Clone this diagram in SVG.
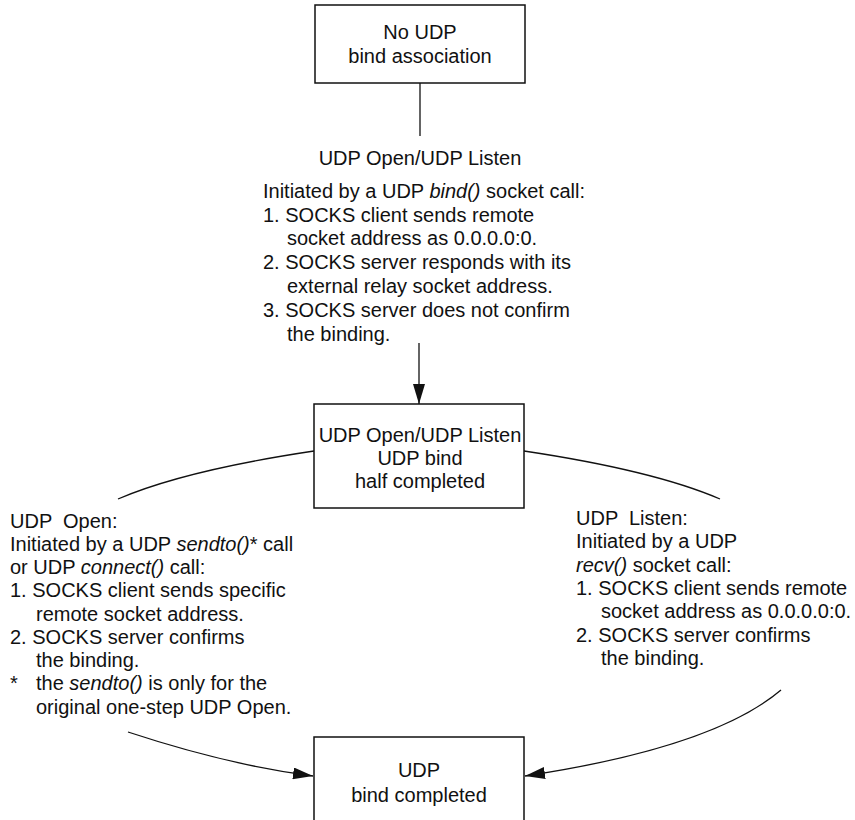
<svg xmlns="http://www.w3.org/2000/svg" width="855" height="820" viewBox="0 0 855 820">
  <style>
    text { font-family: "Liberation Sans", Arial, sans-serif; font-size: 20px; fill: #111; white-space: pre; }
    .c { text-anchor: middle; }
    .i { font-style: italic; }
    .box { fill: #fff; stroke: #111; stroke-width: 1.5; }
    .edge { fill: none; stroke: #111; stroke-width: 1.3; }
  </style>
  <defs>
    <marker id="arrow" markerUnits="userSpaceOnUse" markerWidth="20" markerHeight="12" refX="20" refY="6" orient="auto">
      <path d="M0,0 L20,6 L0,12 z" fill="#111"/>
    </marker>
  </defs>
  <rect width="855" height="820" fill="#fff"/>

  <!-- connectors -->
  <g id="connectors">
    <line class="edge" x1="420" y1="83" x2="420" y2="136"/>
    <line class="edge" x1="419" y1="343" x2="419" y2="404" marker-end="url(#arrow)"/>
    <path class="edge" d="M314,451 Q184.4,470.4 118,499"/>
    <path class="edge" d="M524,451 Q653.6,470.4 720,499"/>
    <path class="edge" d="M128,732 Q227.75,764.9 313,776" marker-end="url(#arrow)"/>
    <path class="edge" d="M781,690 Q713.2,747.6 525,776" marker-end="url(#arrow)"/>
  </g>

  <!-- states -->
  <g id="no-bind">
    <rect class="box" x="315" y="5" width="210" height="78"/>
    <text class="c" x="420" y="39">No UDP</text>
    <text class="c" x="420" y="63">bind association</text>
  </g>

  <g id="half-completed">
    <rect class="box" x="314" y="404" width="210" height="104"/>
    <text class="c" x="420" y="442">UDP Open/UDP Listen</text>
    <text class="c" x="420" y="465">UDP bind</text>
    <text class="c" x="420" y="488">half completed</text>
  </g>

  <g id="bind-completed">
    <rect class="box" x="314" y="737" width="210" height="100"/>
    <text class="c" x="419" y="777">UDP</text>
    <text class="c" x="419" y="802">bind completed</text>
  </g>

  <!-- transition labels -->
  <g id="label-open-listen">
    <text class="c" x="420" y="165">UDP Open/UDP Listen</text>
    <text x="263" y="198">Initiated by a UDP <tspan class="i">bind()</tspan> socket call:</text>
    <text x="263" y="222">1. SOCKS client sends remote</text>
    <text x="287" y="245">socket address as 0.0.0.0:0.</text>
    <text x="263" y="269">2. SOCKS server responds with its</text>
    <text x="287" y="293">external relay socket address.</text>
    <text x="263" y="317">3. SOCKS server does not confirm</text>
    <text x="287" y="341">the binding.</text>
  </g>

  <g id="label-open">
    <text x="10" y="528">UDP  Open:</text>
    <text x="10" y="551">Initiated by a UDP <tspan class="i">sendto()</tspan>* call</text>
    <text x="10" y="574">or UDP <tspan class="i">connect()</tspan> call:</text>
    <text x="10" y="597">1. SOCKS client sends specific</text>
    <text x="36" y="621">remote socket address.</text>
    <text x="10" y="644">2. SOCKS server confirms</text>
    <text x="36" y="667">the binding.</text>
    <text x="10" y="690">*</text>
    <text x="36" y="690">the <tspan class="i">sendto()</tspan> is only for the</text>
    <text x="36" y="714">original one-step UDP Open.</text>
  </g>

  <g id="label-listen">
    <text x="576" y="525">UDP  Listen:</text>
    <text x="576" y="548">Initiated by a UDP</text>
    <text x="576" y="572"><tspan class="i">recv()</tspan> socket call:</text>
    <text x="576" y="595">1. SOCKS client sends remote</text>
    <text x="601" y="618">socket address as 0.0.0.0:0.</text>
    <text x="576" y="642">2. SOCKS server confirms</text>
    <text x="601" y="665">the binding.</text>
  </g>
</svg>
